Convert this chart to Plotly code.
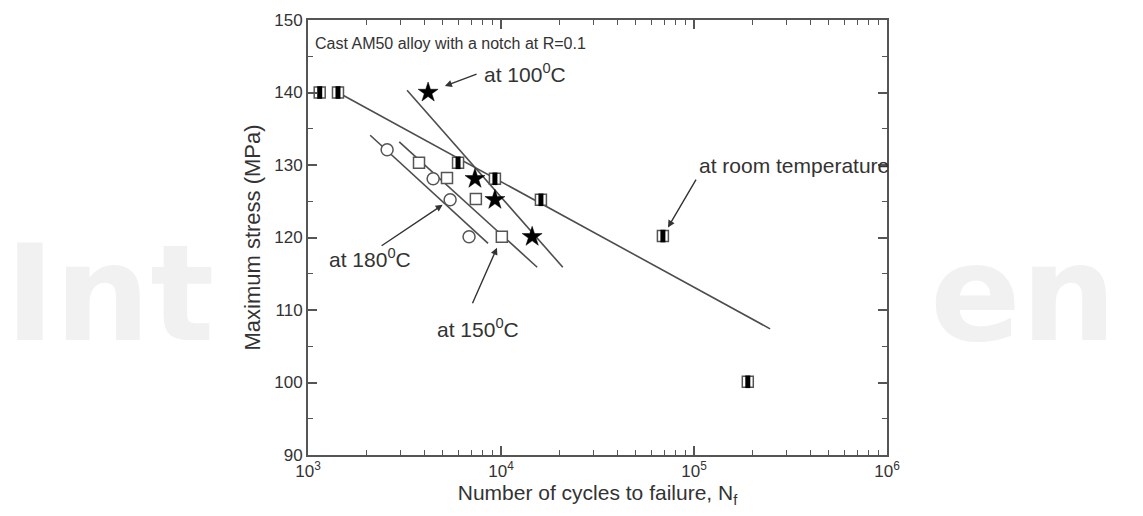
import math

import plotly.graph_objects as go

# Room temperature (half-filled squares)
rt_cycles = [1150, 1430, 5990, 9300, 16100, 69000, 190000]
rt_stress = [140, 140, 130.3, 128.1, 125.2, 120.2, 100.1]
# 100 C (stars)
c100_cycles = [4190, 7330, 9300, 14500]
c100_stress = [140, 128.1, 125.2, 120.1]
# 150 C (open squares)
c150_cycles = [3760, 5250, 7410, 10100]
c150_stress = [130.3, 128.2, 125.3, 120.1]
# 180 C (open circles)
c180_cycles = [2570, 4450, 5450, 6830]
c180_stress = [132.1, 128.1, 125.2, 120.1]

# fitted lines, end points
fit_rt_cycles, fit_rt_stress = [1430, 248000], [140, 107.4]
fit_100_cycles, fit_100_stress = [3260, 20900], [140.3, 115.9]
fit_150_cycles, fit_150_stress = [2970, 15400], [133.2, 115.9]
fit_180_cycles, fit_180_stress = [2100, 8570], [134.1, 119.2]

x_tickvals = [1e3, 1e4, 1e5, 1e6]
x_ticktext = ["10<sup>3</sup>", "10<sup>4</sup>", "10<sup>5</sup>", "10<sup>6</sup>"]
x_minor = [k * 10 ** d for d in (3, 4, 5) for k in range(2, 10)]

_FONT = "Liberation Sans, Arial, sans-serif"
_TEXT = "#333333"
_LINE = "#4d4d4d"
_MARK = "#555555"

fig = go.Figure()

for xs, ys in ((fit_rt_cycles, fit_rt_stress), (fit_100_cycles, fit_100_stress),
               (fit_150_cycles, fit_150_stress), (fit_180_cycles, fit_180_stress)):
    fig.add_trace(go.Scatter(x=xs, y=ys, mode="lines",
                             line=dict(color=_LINE, width=1.6), hoverinfo="skip"))

# half-filled squares: open square + black bar inside
fig.add_trace(go.Scatter(x=rt_cycles, y=rt_stress, mode="markers", name="room temperature",
                         marker=dict(symbol="square", size=11, color="white",
                                     line=dict(color=_MARK, width=1.5))))
fig.add_trace(go.Scatter(x=rt_cycles, y=rt_stress, mode="markers", hoverinfo="skip",
                         marker=dict(symbol="line-ns", size=9,
                                     line=dict(color="black", width=5))))
fig.add_trace(go.Scatter(x=c100_cycles, y=c100_stress, mode="markers", name="100 C",
                         marker=dict(symbol="star", size=15, color="black",
                                     line=dict(color="black", width=0.5))))
fig.add_trace(go.Scatter(x=c150_cycles, y=c150_stress, mode="markers", name="150 C",
                         marker=dict(symbol="square", size=11, color="white",
                                     line=dict(color=_MARK, width=1.5))))
fig.add_trace(go.Scatter(x=c180_cycles, y=c180_stress, mode="markers", name="180 C",
                         marker=dict(symbol="circle", size=12, color="white",
                                     line=dict(color=_MARK, width=1.5))))

# text labels (annotations on a log axis take log10 positions)
labels = [
    (1062, 146.8, "Cast AM50 alloy with a notch at R=0.1", 16),
    (7980, 142.7, "at 100<sup>0</sup>C", 21),
    (103800, 129.9, "at room temperature", 21),
    (1254, 117.2, "at 180<sup>0</sup>C", 21),
    (4550, 107.5, "at 150<sup>0</sup>C", 21),
]
for x, y, txt, size in labels:
    fig.add_annotation(x=math.log10(x), y=y, text=txt, showarrow=False, xanchor="left",
                       yanchor="middle", font=dict(family=_FONT, size=size, color=_TEXT))

# arrows: (tip x, tip y, tail offset px, standoff)
arrows = [
    (4190, 140, 50, -19, 18),
    (69000, 120.2, 34, -58, 10),
    (5450, 125.2, -70, 47, 9),
    (10100, 120.1, -30, 68, 12),
]
for x, y, ax, ay, so in arrows:
    fig.add_annotation(x=math.log10(x), y=y, ax=ax, ay=ay, text="", showarrow=True,
                       arrowhead=2, arrowsize=1, arrowwidth=1.4, arrowcolor="#333",
                       standoff=so)

# watermark
for x, txt in ((-0.526, "Int"), (1.07, "en")):
    fig.add_annotation(xref="paper", yref="paper", x=x, y=0.186, text=txt,
                       showarrow=False, xanchor="left", yanchor="bottom",
                       font=dict(family="DejaVu Sans, sans-serif", size=134,
                                 color="#f1f1f1", weight="bold"))

axis_common = dict(showline=True, linecolor="#555", linewidth=2, mirror="ticks",
                   ticks="inside", ticklen=9, tickwidth=1.5, tickcolor="#555",
                   showgrid=False, zeroline=False, automargin=False,
                   tickfont=dict(family=_FONT, size=17, color=_TEXT))

fig.update_xaxes(type="log", range=[3, 6], tickvals=x_tickvals, ticktext=x_ticktext,
                 minor=dict(ticks="inside", ticklen=5, tickwidth=1.2, tickcolor="#555",
                            tickvals=x_minor),
                 title=dict(text="Number of cycles to failure, N<sub>f</sub>",
                            font=dict(family=_FONT, size=21, color=_TEXT), standoff=4),
                 **axis_common)
fig.update_yaxes(range=[90, 150], dtick=10,
                 minor=dict(ticks="inside", ticklen=5, tickwidth=1.2, tickcolor="#555",
                            dtick=5),
                 title=dict(text="Maximum stress (MPa)",
                            font=dict(family=_FONT, size=22, color=_TEXT), standoff=8),
                 **axis_common)

# page body adds an 8px offset, so margins are trimmed to land the axes in place
fig.update_layout(
    width=1143, height=516, showlegend=False,
    paper_bgcolor="white", plot_bgcolor="white",
    margin=dict(l=300, r=264, t=12, b=69),
)

fig.write_html("out.html")
